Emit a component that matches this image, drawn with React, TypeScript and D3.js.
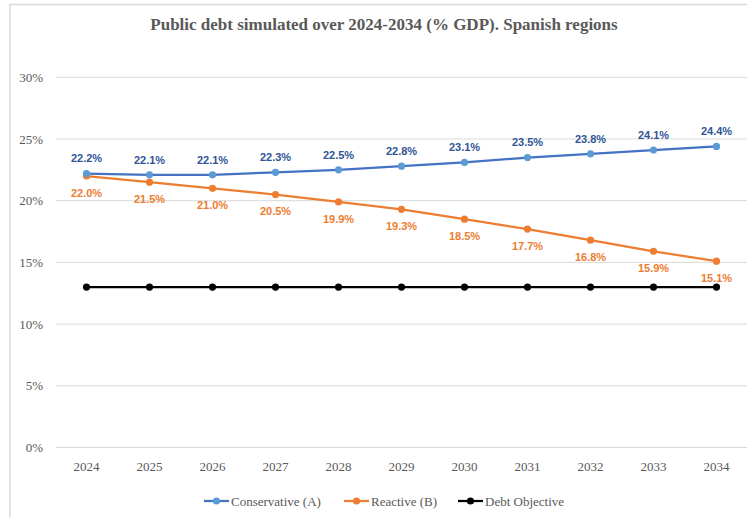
import React from "react";
import * as d3 from "d3";

const years = ["2024","2025","2026","2027","2028","2029","2030","2031","2032","2033","2034"];
const conservative = [22.2, 22.1, 22.1, 22.3, 22.5, 22.8, 23.1, 23.5, 23.8, 24.1, 24.4];
const reactive = [22.0, 21.5, 21.0, 20.5, 19.9, 19.3, 18.5, 17.7, 16.8, 15.9, 15.1];
const objective = [13, 13, 13, 13, 13, 13, 13, 13, 13, 13, 13];
const yTicks = [0, 5, 10, 15, 20, 25, 30];
const seriesNames = ["Conservative (A)", "Reactive (B)", "Debt Objective"];

const W = 747, H = 517;
const serif = "'Liberation Serif', 'Times New Roman', serif";
const sans = "'Liberation Sans', Arial, sans-serif";

export default function App() {
  const x = d3.scalePoint<string>().domain(years).range([55, 748]).padding(0.5);
  const y = d3.scaleLinear().domain([0, 30]).range([447.5, 77.3]);
  const line = d3.line<number>().x((_, i) => x(years[i])!).y(d => y(d));

  const series = [
    { name: seriesNames[0], data: conservative, line: "#4472C4", marker: "#5B9BD5", label: "#2F5597", dy: -15 },
    { name: seriesNames[1], data: reactive, line: "#ED7D31", marker: "#ED7D31", label: "#ED7D31", dy: 17 },
    { name: seriesNames[2], data: objective, line: "#000000", marker: "#000000", label: null as string | null, dy: 0 },
  ];

  const legendItems = [
    { x: 204, s: series[0] },
    { x: 344, s: series[1] },
    { x: 458, s: series[2] },
  ];

  return (
    <svg width={W} height={H} style={{ position: "absolute", left: 0, top: 0, background: "#fff" }}>
      <rect x={0} y={0} width={W} height={H} fill="#fff" />
      <line x1={10} x2={W} y1={4.5} y2={4.5} stroke="#d9d9d9" strokeWidth={1.5} />
      <line x1={10} x2={10} y1={4} y2={H} stroke="#d9d9d9" strokeWidth={1.5} />
      <text x={384} y={30} textAnchor="middle" fontFamily={serif} fontWeight="bold" fontSize={17} fill="#595959">
        Public debt simulated over 2024-2034 (% GDP). Spanish regions
      </text>
      {yTicks.map(t => (
        <g key={t}>
          <line x1={56} x2={W} y1={y(t)} y2={y(t)} stroke="#d9d9d9" strokeWidth={1} />
          <text x={43} y={y(t)} dy="0.35em" textAnchor="end" fontFamily={serif} fontSize={13} fill="#595959">{t}%</text>
        </g>
      ))}
      {years.map(yr => (
        <text key={yr} x={x(yr)} y={466} dy="0.35em" textAnchor="middle" fontFamily={serif} fontSize={13} fill="#595959">{yr}</text>
      ))}
      {series.slice().reverse().map(s => (
        <g key={s.name}>
          <path d={line(s.data)!} fill="none" stroke={s.line} strokeWidth={2.25} />
          {s.data.map((v, i) => (
            <circle key={i} cx={x(years[i])} cy={y(v)} r={3.6} fill={s.marker} />
          ))}
        </g>
      ))}
      {series.filter(s => s.label).map(s => (
        <g key={s.name + "lbl"}>
          {s.data.map((v, i) => (
            <text key={i} x={x(years[i])} y={y(v) + s.dy} dy="0.35em" textAnchor="middle" fontFamily={sans} fontWeight="bold" fontSize={11} fill={s.label!}>
              {v.toFixed(1)}%
            </text>
          ))}
        </g>
      ))}
      {legendItems.map(({ x: lx, s }) => (
        <g key={s.name + "leg"}>
          <line x1={lx} x2={lx + 25} y1={501} y2={501} stroke={s.line} strokeWidth={2.25} />
          <circle cx={lx + 12.5} cy={501} r={3.6} fill={s.marker} />
          <text x={lx + 27} y={501} dy="0.35em" fontFamily={serif} fontSize={13} fill="#595959">{s.name}</text>
        </g>
      ))}
    </svg>
  );
}
